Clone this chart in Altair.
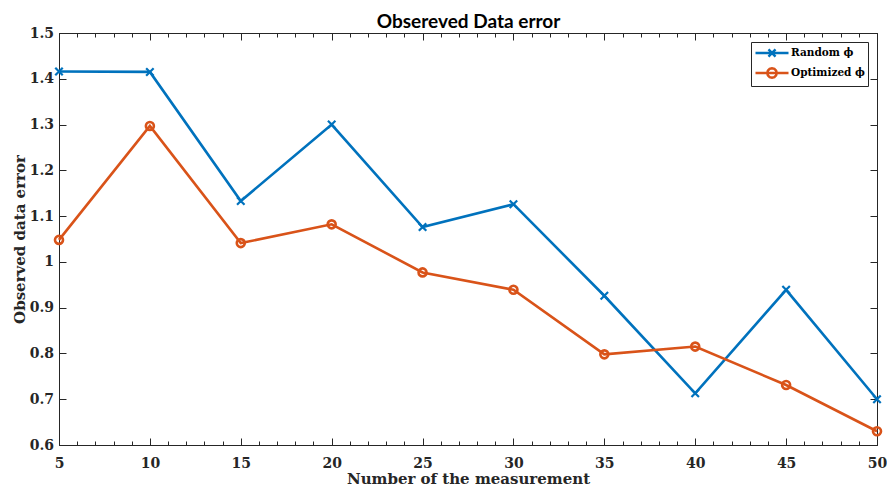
import altair as alt
import pandas as pd

# ---- data ----
measurements = [5, 10, 15, 20, 25, 30, 35, 40, 45, 50]
random_phi = [1.416, 1.415, 1.133, 1.300, 1.076, 1.126, 0.926, 0.713, 0.939, 0.700]
optimized_phi = [1.048, 1.297, 1.041, 1.082, 0.977, 0.939, 0.798, 0.815, 0.731, 0.630]
series_names = ["Random ϕ", "Optimized ϕ"]
series_colors = ["#0072BD", "#D95319"]
x_major_ticks = [5, 10, 15, 20, 25, 30, 35, 40, 45, 50]
x_minor_ticks = list(range(5, 51))
y_ticks = [0.6, 0.7, 0.8, 0.9, 1.0, 1.1, 1.2, 1.3, 1.4, 1.5]
chart_title = "Obsereved Data error"

df_random = pd.DataFrame({"n": measurements, "err": random_phi, "series": series_names[0]})
df_opt = pd.DataFrame({"n": measurements, "err": optimized_phi, "series": series_names[1]})
df_all = pd.concat([df_random, df_opt], ignore_index=True)

INK = "#262626"
SERIF = "DejaVu Serif"
W, H = 818, 412

# marker / legend symbol paths (legend: line segment with the marker in its middle)
x_marker = "M-1,-1L1,1M-1,1L1,-1"
legend_random = "M-1,0L4.077,0M1.0,-0.54L2.08,0.54M1.0,0.54L2.08,-0.54"
legend_opt = ("M-1,0L4.077,0"
              "M2.268,0L2.170,0.365L1.903,0.632L1.538,0.73L1.173,0.632L0.906,0.365"
              "L0.808,0L0.906,-0.365L1.173,-0.632L1.538,-0.73L1.903,-0.632L2.170,-0.365Z")

xscale = alt.Scale(domain=[5, 50], nice=False, zero=False)
yscale = alt.Scale(domain=[0.6, 1.5], nice=False, zero=False)

ax_bottom = alt.Axis(orient="bottom", values=x_major_ticks, tickSize=alt.ExprRef(expr="-7"),
                     labelPadding=18.5, labelFlush=False, labelOverlap=False,
                     title="Number of the measurement", titleX=W / 2, titleY=33,
                     titleBaseline="middle", titleAlign="center")
ax_bottom_minor = alt.Axis(orient="bottom", values=x_minor_ticks, tickSize=alt.ExprRef(expr="-4"),
                           labels=False, title=None)
ax_top = alt.Axis(orient="top", values=x_major_ticks, tickSize=alt.ExprRef(expr="-7"),
                  labels=False, title=chart_title, titleX=W / 2, titleY=-6,
                  titleBaseline="alphabetic", titleAlign="center", titleFont="Lato",
                  titleFontSize=19, titleFontWeight="bold", titleColor="black", minExtent=0)
ax_top_minor = alt.Axis(orient="top", values=x_minor_ticks, tickSize=alt.ExprRef(expr="-4"),
                        labels=False, title=None, minExtent=0)
ax_left = alt.Axis(orient="left", values=y_ticks, format=".1~f", tickSize=alt.ExprRef(expr="-7"),
                   labelPadding=12.5, title="Observed data error", titleX=-40, titleY=H / 2,
                   titleBaseline="middle", titleAlign="center", titleAngle=-90)
ax_right = alt.Axis(orient="right", values=y_ticks, tickSize=alt.ExprRef(expr="-7"),
                    labels=False, title=None, minExtent=0)

line_blue = alt.Chart(df_random).mark_line(color=series_colors[0], strokeWidth=2.6).encode(
    x=alt.X("n:Q", scale=xscale, axis=ax_bottom),
    y=alt.Y("err:Q", scale=yscale, axis=ax_left),
)
pts_blue = alt.Chart(df_random).mark_point(shape=x_marker, size=56, filled=False, strokeWidth=2.2,
                                           color=series_colors[0], opacity=1).encode(
    x=alt.X("n:Q", scale=xscale, axis=ax_top),
    y=alt.Y("err:Q", scale=yscale, axis=ax_right),
)
line_orange = alt.Chart(df_opt).mark_line(color=series_colors[1], strokeWidth=2.6).encode(
    x=alt.X("n:Q", scale=xscale, axis=ax_bottom_minor),
    y=alt.Y("err:Q", scale=yscale, axis=None),
)
pts_orange = alt.Chart(df_opt).mark_point(shape="circle", size=64, filled=False, strokeWidth=2.6,
                                          color=series_colors[1], opacity=1).encode(
    x=alt.X("n:Q", scale=xscale, axis=ax_top_minor),
    y=alt.Y("err:Q", scale=yscale, axis=None),
)

legend = alt.Legend(title=None, orient="top-right", offset=9, padding=3, strokeColor=INK,
                    fillColor="white", symbolSize=169, symbolStrokeWidth=2.5,
                    labelOffset=21, rowPadding=1, labelFont=SERIF, labelFontWeight="bold",
                    labelFontSize=10.5, labelColor="black", cornerRadius=0)

legend_layer = alt.Chart(df_all).transform_filter("false").mark_point(
    filled=False, strokeWidth=2.5, opacity=1).encode(
    x=alt.X("n:Q", scale=xscale, axis=None),
    y=alt.Y("err:Q", scale=yscale, axis=None),
    color=alt.Color("series:N", scale=alt.Scale(domain=series_names, range=series_colors),
                    legend=legend),
    shape=alt.Shape("series:N", scale=alt.Scale(domain=series_names,
                                                range=[legend_random, legend_opt]),
                    legend=legend),
)

chart = alt.layer(line_blue, line_orange, pts_blue, pts_orange, legend_layer).resolve_axis(
    x="independent", y="independent"
).properties(
    width=W,
    height=H,
    background="white",
    autosize=alt.AutoSizeParams(type="none"),
    padding={"left": 51, "top": 25, "right": 10, "bottom": 41},
).configure_view(
    stroke=INK, strokeWidth=1
).configure_axis(
    domain=False, grid=False, tickColor=INK, tickWidth=1,
    labelFont=SERIF, labelFontWeight="bold", labelFontSize=14, labelColor=INK,
    titleFont=SERIF, titleFontWeight="bold", titleFontSize=15, titleColor=INK,
)

chart.save("out.html", embed_options={"renderer": "svg", "actions": False})
